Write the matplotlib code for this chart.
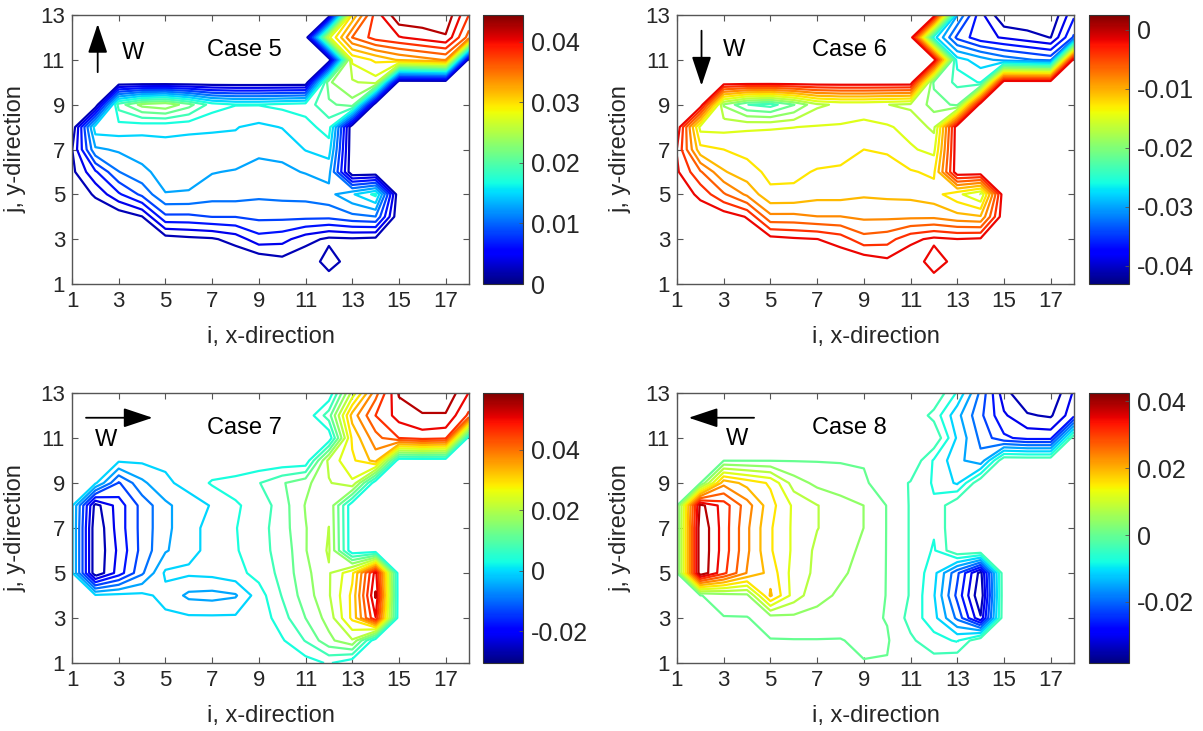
import numpy as np
import matplotlib
matplotlib.use('Agg')
import matplotlib.pyplot as plt
from matplotlib import colors, cm

plt.rcParams['font.family'] = ['Liberation Sans', 'DejaVu Sans']

# grid indices
i_vals = np.arange(1, 19)
j_vals = np.arange(1, 14)

# field values in units of 1e-3, rows from j=13 (top) down to j=1, columns i=1..18
case5 = [
    [0, 0, 0, 0, 0, 0, 0, 0, 0, 0, 0, 0, 30, 39, 44, 44, 44, 38],
    [0, 0, 0, 0, 0, 0, 0, 0, 0, 0, 0, 27, 36, 39, 40, 41, 42, 35],
    [0, 0, 0, 0, 0, 0, 0, 0, 0, 0, 0, 0, 28, 30, 32, 33, 34, 0],
    [0, 0, 0, 0, 0, 0, 0, 0, 0, 0, 0, 23, 25, 26.5, 0, 0, 0, 0],
    [0, 0, 20, 24, 25, 22, 18, 17, 17, 17.5, 18, 20.5, 22.5, 0, 0, 0, 0, 0],
    [0, 16, 16, 15.5, 15.3, 15.2, 15, 14.9, 14.3, 14.9, 16, 18, 0, 0, 0, 0, 0, 0],
    [2, 12.3, 13, 13.6, 14.2, 14, 14.2, 14.2, 13, 13.2, 14.9, 15.8, 0, 0, 0, 0, 0, 0],
    [1.5, 6, 10.5, 12.2, 13.5, 13.5, 12.8, 12.5, 12.2, 12.3, 12.8, 13.4, 0, 0, 0, 0, 0, 0],
    [0, 2.5, 6, 9, 12.6, 12.5, 11.5, 11.5, 11, 11.2, 11.3, 12, 14.5, 17.5, 0, 0, 0, 0],
    [0, 0, 0.5, 2, 8, 8, 8.5, 8.5, 9, 9, 9, 9, 10, 10.5, 0, 0, 0, 0],
    [0, 0, 0, 0, 1, 1.5, 1.8, 3, 5.5, 5, 3, 1.6, 1.8, 1.5, 0, 0, 0, 0],
    [0, 0, 0, 0, 0, 0, 0, 0, 0.3, 1.3, 0.2, 3.3, 0.8, 0, 0, 0, 0, 0],
    [0, 0, 0, 0, 0, 0, 0, 0, 0, 0, 0.5, 0.5, 0, 0, 0, 0, 0, 0],
]

case6 = [
    [0, 0, 0, 0, 0, 0, 0, 0, 0, 0, 0, 0, -30, -38, -43, -43, -43, -37],
    [0, 0, 0, 0, 0, 0, 0, 0, 0, 0, 0, -27, -35, -38, -39, -40, -41, -34],
    [0, 0, 0, 0, 0, 0, 0, 0, 0, 0, 0, 0, -27, -29, -31, -32, -33, 0],
    [0, 0, 0, 0, 0, 0, 0, 0, 0, 0, 0, -22, -24, -26, 0, 0, 0, 0],
    [0, 0, -19.5, -23.5, -24.5, -21.5, -17.5, -16.6, -16.6, -17, -17.5, -20, -22, 0, 0, 0, 0, 0],
    [0, -15.6, -15.6, -15.2, -15, -14.9, -14.7, -14.6, -14, -14.6, -15.6, -17.6, 0, 0, 0, 0, 0, 0],
    [-2, -12, -12.7, -13.3, -13.9, -13.7, -13.9, -13.9, -12.7, -12.9, -14.6, -15.5, 0, 0, 0, 0, 0, 0],
    [-1.5, -5.9, -10.3, -11.9, -13.2, -13.2, -12.5, -12.2, -11.9, -12, -12.5, -13.1, 0, 0, 0, 0, 0, 0],
    [0, -2.5, -5.9, -8.8, -12.3, -12.2, -11.3, -11.3, -10.8, -11, -11.1, -11.8, -14.2, -17.1, 0, 0, 0, 0],
    [0, 0, -0.5, -2, -7.8, -7.8, -8.3, -8.3, -8.8, -8.8, -8.8, -8.8, -9.8, -10.3, 0, 0, 0, 0],
    [0, 0, 0, 0, -1, -1.5, -1.8, -2.9, -5.4, -4.9, -2.5, -1.3, -1.8, -1.5, 0, 0, 0, 0],
    [0, 0, 0, 0, 0, 0, 0, 0, -0.3, -1.3, 0, -3.2, -0.8, 0, 0, 0, 0, 0],
    [0, 0, 0, 0, 0, 0, 0, 0, 0, 0, -0.5, -0.5, 0, 0, 0, 0, 0, 0],
]

case7 = [
    [0, 0, 0, 0, 0, 0, 0, 0, 0, 0, 0, 0, 22, 40, 55, 58, 58, 50],
    [0, 0, 0, 0, 0, 0, 0, 0, 0, 0, 0, 10, 35, 46, 52, 54, 54, 45],
    [0, 0, 0, 0, 0, 0, 0, 0, 0, 0, 0, 0, 30, 40, 46, 48, 47, 0],
    [0, 0, 0, 0, 0, 0, 0, 0, 0, 0, 0, 22, 28, 35, 0, 0, 0, 0],
    [0, 0, -14, -6, -1.5, 0.5, 4, 5, 7.5, 11.5, 15, 20, 24, 0, 0, 0, 0, 0],
    [0, -28, -20, -12, -6, -2.5, -0.5, 3, 5, 10, 16.5, 20, 0, 0, 0, 0, 0, 0],
    [0, -30, -20, -12, -6, -2.5, 1, 3.3, 6, 10, 16, 20.5, 0, 0, 0, 0, 0, 0],
    [0, -30, -21, -12, -5.5, -2, 0.5, 3, 6.5, 9, 16, 21, 0, 0, 0, 0, 0, 0],
    [0, -30, -20, -10, 0, 0, 0.5, 2, 5, 9, 15, 20, 28, 52, 0, 0, 0, 0],
    [0, 0, 0.5, 0.3, -2, -6, -6.5, -5.5, 1.5, 8, 14, 20, 30, 55, 0, 0, 0, 0],
    [0, 0, 0, 0, 0, 0, 0, 0, 0.5, 6, 12, 18, 30, 50, 0, 0, 0, 0],
    [0, 0, 0, 0, 0, 0, 0, 0, 0, 3, 8, 15, 20, 0, 0, 0, 0, 0],
    [0, 0, 0, 0, 0, 0, 0, 0, 0, 0, 1.5, 4, 0, 0, 0, 0, 0, 0],
]

case8 = [
    [0, 0, 0, 0, 0, 0, 0, 0, 0, 0, 0, 0, -8, -20, -33, -38, -38, -30],
    [0, 0, 0, 0, 0, 0, 0, 0, 0, 0, 0, -5, -14, -22, -30, -34, -35, -28],
    [0, 0, 0, 0, 0, 0, 0, 0, 0, 0, 0, 0, -12, -20, -26, -28, -28, 0],
    [0, 0, 0, 0, 0, 0, 0, 0, 0, 0, 0, -8, -14, -18, 0, 0, 0, 0],
    [0, 0, 22, 18, 15, 6, 3, 1.5, 0.5, -1, -4, -8, -12, 0, 0, 0, 0, 0],
    [0, 40, 33, 25, 17, 11, 8, 6, 4, 0, -4, -7, 0, 0, 0, 0, 0, 0],
    [0, 42, 33, 24, 16, 11, 8, 6, 4, 0, -4, -7, 0, 0, 0, 0, 0, 0],
    [0, 42, 33, 24, 16, 11, 7, 5, 3.5, 0, -4, -8, 0, 0, 0, 0, 0, 0],
    [0, 42, 32, 23, 18, 10, 7, 4.5, 3, 0, -4, -10, -22, -36, 0, 0, 0, 0],
    [0, 0, 2, 3, 20, 10, 5, 3.5, 2.5, 0, -4, -11, -24, -38, 0, 0, 0, 0],
    [0, 0, 0, 0, 2, 3, 3, 2, 1, 0, -5, -10, -20, -34, 0, 0, 0, 0],
    [0, 0, 0, 0, 0, 0, 0, 0, 1, 0.5, -3, -6, -8, 0, 0, 0, 0, 0],
    [0, 0, 0, 0, 0, 0, 0, 0, 0, 0, -0.5, -2, 0, 0, 0, 0, 0, 0],
]

case_names = ['Case 5', 'Case 6', 'Case 7', 'Case 8']
fields = [case5, case6, case7, case8]
# colour ranges
clims = [(0.0, 0.0444), (-0.0431, 0.0025), (-0.0305, 0.0587), (-0.0383, 0.0425)]
cbar_ticks = [[0, 0.01, 0.02, 0.03, 0.04],
              [-0.04, -0.03, -0.02, -0.01, 0],
              [-0.02, 0, 0.02, 0.04],
              [-0.02, 0, 0.02, 0.04]]
cbar_labels = [['0', '0.01', '0.02', '0.03', '0.04'],
               ['-0.04', '-0.03', '-0.02', '-0.01', '0'],
               ['-0.02', '0', '0.02', '0.04'],
               ['-0.02', '0', '0.02', '0.04']]
# wind arrows (tail, head) and W label position
arrows = [((2.1, 10.45), (2.1, 12.6)),
          ((2.05, 12.3), (2.05, 9.85)),
          ((1.6, 11.9), (4.45, 11.9)),
          ((4.3, 11.9), (1.5, 11.9))]
w_pos = [(3.6, 11.3), (3.45, 11.45), (2.45, 10.9), (3.55, 10.95)]

W, H = 1203, 731
fig = plt.figure(figsize=(W / 100, H / 100), dpi=100)

# pixel boxes: left, top, right, bottom
ax_boxes = [(72, 15, 469, 284), (677, 15, 1074, 284),
            (72, 393, 469, 663), (677, 393, 1074, 663)]
cb_boxes = [(483, 15, 523, 284), (1089, 15, 1129, 284),
            (483, 393, 523, 663), (1089, 393, 1129, 663)]


def frac(box):
    l, t, r, b = box
    return [l / W, 1 - b / H, (r - l) / W, (b - t) / H]


edge = '#262626'
I, J = np.meshgrid(i_vals, j_vals)

for k in range(4):
    ax = fig.add_axes(frac(ax_boxes[k]))
    Z = np.array(fields[k])[::-1] * 1e-3
    lo, hi = clims[k]
    norm = colors.Normalize(lo, hi)
    levels = np.linspace(lo, hi, 22)[1:-1]
    ax.contour(I, J, Z, levels=levels, cmap='jet', norm=norm, linewidths=1.6)

    ax.set_xlim(1, 18)
    ax.set_ylim(1, 13)
    ax.set_xticks(np.arange(1, 18, 2))
    ax.set_yticks(np.arange(1, 14, 2))
    ax.tick_params(direction='in', length=4, width=0.8, colors='#555555',
                   labelsize=16, labelcolor=edge, pad=5,
                   top=True, right=True)
    for s in ax.spines.values():
        s.set_color('#555555')
        s.set_linewidth(1.0)
    ax.set_xlabel('i, x-direction', fontsize=17, color=edge, labelpad=10)
    ax.set_ylabel('j, y-direction', fontsize=17, color=edge, labelpad=10)

    tail, head = arrows[k]
    ax.annotate('', xy=head, xytext=tail,
                arrowprops=dict(arrowstyle='-|>,head_length=0.9,head_width=0.3',
                                color='k', lw=1.3, shrinkA=0, shrinkB=0,
                                mutation_scale=20))
    ax.text(w_pos[k][0], w_pos[k][1], 'W', fontsize=17, ha='center', va='center')
    ax.text(8.4, 11.45, case_names[k], fontsize=17, ha='center', va='center')

    cax = fig.add_axes(frac(cb_boxes[k]))
    sm = cm.ScalarMappable(norm=norm, cmap='jet')
    cb = fig.colorbar(sm, cax=cax)
    cb.set_ticks(cbar_ticks[k])
    cb.set_ticklabels(cbar_labels[k])
    cb.ax.tick_params(direction='in', length=3, width=0.6, labelsize=18,
                      colors='#555555', labelcolor=edge, pad=6)
    cb.outline.set_edgecolor('#333333')
    cb.outline.set_linewidth(0.8)

fig.savefig('out.png', dpi=100)
